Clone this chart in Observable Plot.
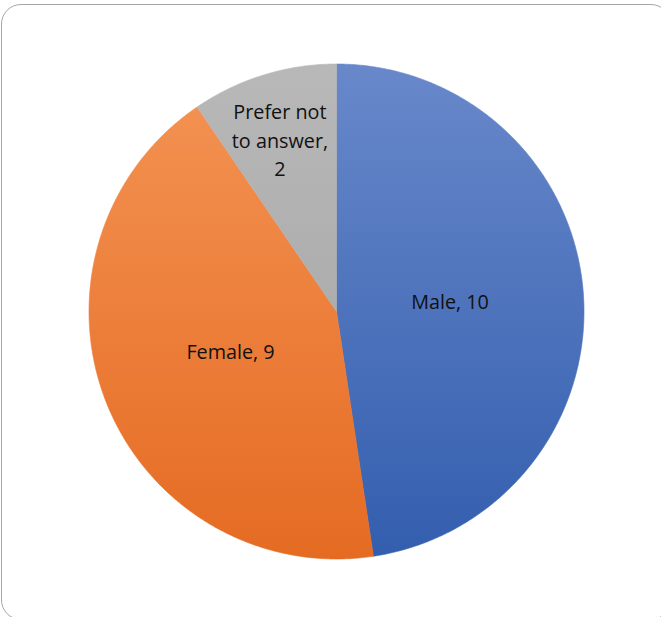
<!DOCTYPE html>
<html>
<head>
<meta charset="utf-8">
<script src="https://cdn.jsdelivr.net/npm/d3@7"></script>
<script src="https://cdn.jsdelivr.net/npm/@observablehq/plot@0.6"></script>
<style>
  html, body { margin: 0; padding: 0; background: #fff; overflow: hidden; }
  #wrap { position: relative; width: 661px; height: 617px; overflow: hidden; }
  #frame { position: absolute; left: 1px; top: 4px; width: 670px; height: 616px;
           border: 1.3px solid #a6a6a6; border-radius: 20px; box-sizing: border-box; }
  #chart { position: absolute; left: 0; top: 0; }
</style>
</head>
<body>
<div id="wrap"><div id="frame"></div><div id="chart"></div></div>
<script>
// Data
const categories = ["Male", "Female", "Prefer not\nto answer"];
const values = [10, 9, 2];
const colorsTop = ["#6888ca", "#f49455", "#b8b8b8"];
const colorsBottom = ["#335eae", "#e56b22", "#a2a2a2"];

const rows = categories.map((c, i) => ({category: c, value: values[i], key: "s" + i}));
const arcs = d3.pie().sort(null).value(d => d.value)(rows);

// polygon points for each slice, derived from pie angles
const pts = [];
arcs.forEach(a => {
  const k = a.data.key;
  pts.push({key: k, x: 0, y: 0});
  const n = Math.max(2, Math.ceil((a.endAngle - a.startAngle) / (Math.PI / 360)));
  for (let j = 0; j <= n; j++) {
    const t = a.startAngle + (a.endAngle - a.startAngle) * j / n;
    pts.push({key: k, x: Math.sin(t), y: Math.cos(t)});
  }
  pts.push({key: k, x: 0, y: 0});
});

const labels = arcs.map(a => {
  const m = (a.startAngle + a.endAngle) / 2;
  const small = a.data.value < 3;
  return {
    text: a.data.category + (small ? ",\n" : ", ") + a.data.value,
    x: 0.46 * Math.sin(m), y: 0.46 * Math.cos(m), small
  };
});

const chart = Plot.plot({
  width: 661,
  height: 617,
  margin: 0,
  style: {fontFamily: "'Open Sans', sans-serif", background: "transparent", overflow: "visible"},
  x: {domain: [-1, 1], range: [88.5, 583.5], axis: null},
  y: {domain: [-1, 1], range: [558.5, 63.5], axis: null},
  color: {domain: rows.map(r => r.key), range: rows.map(r => `url(#grad-${r.key})`)},
  marks: [
    Plot.line(pts, {x: "x", y: "y", z: "key", fill: "key", stroke: "key", strokeWidth: 0.6, curve: "linear"}),
    Plot.text(labels.filter(d => !d.small), {x: "x", y: "y", text: "text", fontSize: 19.8, fill: "#111"}),
    Plot.text(labels.filter(d => d.small), {x: "x", y: "y", text: "text", fontSize: 19.8, fill: "#111", dx: -23, dy: -64, lineHeight: 1.44})
  ]
});

// gradient defs (vertical, spanning the pie)
const svg = d3.select(chart);
const defs = svg.insert("defs", ":first-child");
rows.forEach((r, i) => {
  const g = defs.append("linearGradient")
    .attr("id", "grad-" + r.key)
    .attr("gradientUnits", "userSpaceOnUse")
    .attr("x1", 0).attr("x2", 0).attr("y1", 63.5).attr("y2", 558.5);
  g.append("stop").attr("offset", "0%").attr("stop-color", colorsTop[i]);
  g.append("stop").attr("offset", "100%").attr("stop-color", colorsBottom[i]);
});

document.getElementById("chart").appendChild(chart);
</script>
</body>
</html>
